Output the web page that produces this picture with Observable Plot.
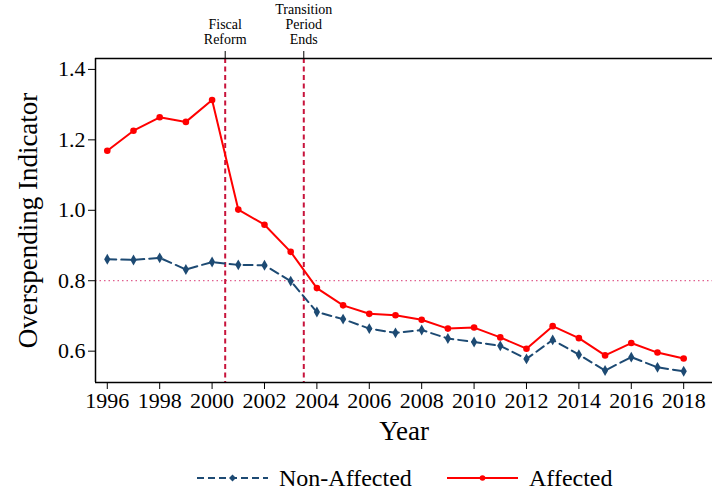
<!DOCTYPE html>
<html><head><meta charset="utf-8">
<script src="https://cdn.jsdelivr.net/npm/d3@7"></script>
<script src="https://cdn.jsdelivr.net/npm/@observablehq/plot@0.6"></script>
<style>
html,body{margin:0;padding:0;background:#fff;}
#wrap{position:relative;width:712px;height:495px;font-family:"Liberation Serif","Times New Roman",serif;color:#000;overflow:hidden;}
#legend{position:absolute;left:0;top:458px;width:712px;height:40px;}
.item{position:absolute;top:0;height:40px;display:flex;align-items:center;font-size:24px;white-space:nowrap;font-family:"Liberation Serif","Times New Roman",serif;}
.item span{font-family:"Liberation Serif","Times New Roman",serif;}
.item svg{margin-right:11px;}
#chart svg text{font-family:"Liberation Serif","Times New Roman",serif;}
</style></head><body>
<div id="wrap"><div id="chart"></div><div id="legend"></div></div>
<script>
const years = [1996,1997,1998,1999,2000,2001,2002,2003,2004,2005,2006,2007,2008,2009,2010,2011,2012,2013,2014,2015,2016,2017,2018];
const nonAffected = [0.861,0.859,0.865,0.832,0.853,0.845,0.844,0.799,0.711,0.691,0.664,0.652,0.660,0.636,0.626,0.615,0.578,0.632,0.590,0.545,0.583,0.554,0.543];
const affected = [1.169,1.226,1.264,1.251,1.313,1.002,0.959,0.882,0.779,0.730,0.706,0.702,0.689,0.664,0.667,0.639,0.607,0.671,0.637,0.588,0.623,0.596,0.579];
const seriesNames = ["Non-Affected","Affected"];
const eventYears = [2000.5, 2003.5];
const eventLabels = ["Fiscal\nReform","Transition\nPeriod\nEnds"];
const threshold = 0.8;
const yTicks = [0.6,0.8,1.0,1.2,1.4];
const xTicks = [1996,1998,2000,2002,2004,2006,2008,2010,2012,2014,2016,2018];
const xDomain = [1995.55, 2019.1];
const yDomain = [0.511, 1.431];
const colors = ["#1d4a73","#ff0000"];

const rows = years.map((y,i)=>({year:y, non:nonAffected[i], aff:affected[i]}));

const chart = Plot.plot({
  width:712, height:455,
  marginLeft:95, marginRight:0, marginTop:58, marginBottom:73,
  style:{fontFamily:"'Liberation Serif', 'Times New Roman', serif", fontSize:"22px", color:"#000", background:"#fff", overflow:"visible"},
  x:{domain:xDomain},
  y:{domain:yDomain},
  marks:[
    Plot.ruleY([threshold],{stroke:"#e0608f", strokeDasharray:"1.5,3", strokeWidth:1.3}),
    Plot.ruleX(eventYears,{stroke:"#c8143c", strokeDasharray:"5,3.5", strokeWidth:2}),
    Plot.line(rows,{x:"year", y:"non", stroke:colors[0], strokeWidth:2, strokeDasharray:"9,5"}),
    Plot.dot(rows,{x:"year", y:"non", symbol:"diamond", fill:colors[0], r:3.3}),
    Plot.line(rows,{x:"year", y:"aff", stroke:colors[1], strokeWidth:2}),
    Plot.dot(rows,{x:"year", y:"aff", fill:colors[1], r:3.3}),
    Plot.ruleX([xDomain[0]],{stroke:"#000", strokeWidth:1.5}),
    Plot.ruleY([yDomain[0]],{stroke:"#000", strokeWidth:1.5}),
    Plot.ruleY([yDomain[1]],{stroke:"#000", strokeWidth:1.5}),
    Plot.axisY({ticks:yTicks, tickFormat:d3.format(".1f"), tickSize:7, tickPadding:3, label:null, fontSize:22}),
    Plot.axisX({ticks:xTicks, tickFormat:d=>String(d), tickSize:7, tickPadding:3, label:null, fontSize:22}),
    Plot.axisX({anchor:"top", ticks:eventYears, tickFormat:(d,i)=>eventLabels[i], tickSize:8, tickPadding:7, label:null, fontSize:14, lineHeight:1.05}),
    Plot.text(["Overspending Indicator"],{frameAnchor:"left", dx:-67, rotate:-90, fontSize:27, textAnchor:"middle", lineAnchor:"middle"}),
    Plot.text(["Year"],{frameAnchor:"bottom", dy:49, fontSize:27, textAnchor:"middle", lineAnchor:"middle"})
  ]
});
document.getElementById("chart").appendChild(chart);

const legend = document.getElementById("legend");
const legendItems = [
  {name:seriesNames[0], color:colors[0], dash:"7,4", left:197, shape:"diamond"},
  {name:seriesNames[1], color:colors[1], dash:null, left:447, shape:"circle"}
];
legendItems.forEach(it=>{
  const div = document.createElement("div");
  div.className = "item";
  div.style.left = it.left + "px";
  const ns = "http://www.w3.org/2000/svg";
  const svg = document.createElementNS(ns,"svg");
  svg.setAttribute("width",71); svg.setAttribute("height",10);
  const ln = document.createElementNS(ns,"line");
  ln.setAttribute("x1",0); ln.setAttribute("x2",71); ln.setAttribute("y1",5); ln.setAttribute("y2",5);
  ln.setAttribute("stroke",it.color); ln.setAttribute("stroke-width",2);
  if (it.dash) ln.setAttribute("stroke-dasharray",it.dash);
  svg.appendChild(ln);
  if (it.shape==="circle"){
    const c = document.createElementNS(ns,"circle");
    c.setAttribute("cx",35.5); c.setAttribute("cy",5); c.setAttribute("r",2.8); c.setAttribute("fill",it.color);
    svg.appendChild(c);
  } else {
    const p = document.createElementNS(ns,"path");
    p.setAttribute("d","M35.5,1.5L39,5L35.5,8.5L32,5Z"); p.setAttribute("fill",it.color);
    svg.appendChild(p);
  }
  div.appendChild(svg);
  const span = document.createElement("span");
  span.textContent = it.name;
  div.appendChild(span);
  legend.appendChild(div);
});
</script>
</body></html>
